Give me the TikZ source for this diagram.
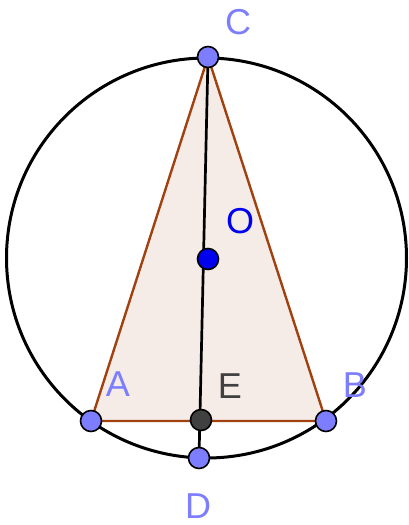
\documentclass[tikz,border=0pt]{standalone}
\usepackage{fontspec}
\setmainfont{Liberation Sans}
\usepackage{tikz}
\definecolor{azul}{RGB}{125,125,255}
\definecolor{azulO}{RGB}{0,0,240}
\definecolor{gris}{RGB}{64,64,64}
\definecolor{teja}{RGB}{160,65,15}

\begin{document}
\begin{tikzpicture}[
  x=1pt, y=-1pt,
  font=\fontsize{36}{40}\selectfont,
  punto/.style={circle, draw=black, line width=1.6pt, fill=azul, minimum size=21pt, inner sep=0pt},
  etiqueta/.style={text=azul, inner sep=0pt},
  lado/.style={draw=teja, line width=2.4pt},
  trazo/.style={draw=black, line width=3pt}
]
\useasboundingbox (0,0) rectangle (408,525);
\coordinate (O) at (208,259);
\coordinate (C) at (208,57);
\coordinate (A) at (91,421);
\coordinate (B) at (326,421);
\coordinate (E) at (201,420);
\coordinate (D) at (199,458);
\fill[teja!10] (A) -- (B) -- (C) -- cycle;
\draw[trazo] (206.5,258) circle[radius=200pt];
\draw[lado] (A) -- (B) -- (C) -- cycle;
\draw[trazo, line width=2.7pt] (C) -- (D);
\node[punto] (pA) at (A) {};
\node[punto] (pB) at (B) {};
\node[punto] (pC) at (C) {};
\node[punto] (pD) at (D) {};
\node[punto, fill=gris] (pE) at (E) {};
\node[punto, fill=azulO] (pO) at (O) {};
\node[etiqueta] (lC) at (238,22) {C};
\node[etiqueta, text=azulO] (lO) at (240,221) {O};
\node[etiqueta] (lA) at (118,384) {A};
\node[etiqueta, text=gris] (lE) at (230,386) {E};
\node[etiqueta] (lB) at (355,385) {B};
\node[etiqueta] (lD) at (198,506) {D};
\end{tikzpicture}
\end{document}
